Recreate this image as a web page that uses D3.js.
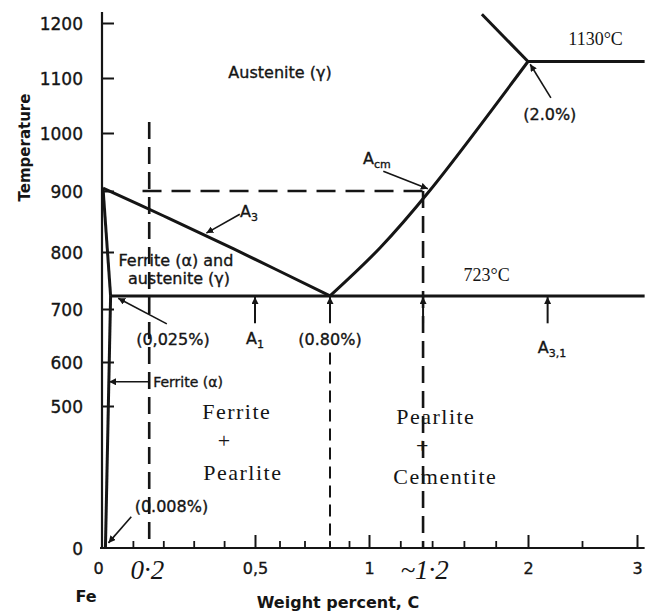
<!DOCTYPE html>
<html>
<head>
<meta charset="utf-8">
<script src="https://cdn.jsdelivr.net/npm/d3@7"></script>
<style>
  body { margin: 0; background: #fff; }
  svg text { fill: #151515; }
  .sans { font-family: "DejaVu Sans", sans-serif; font-size: 16px; stroke: #151515; stroke-width: 0.35px; }
  .serif { font-family: "Liberation Serif", serif; font-size: 22px; letter-spacing: 1.5px; }
  .note { font-family: "Liberation Serif", serif; font-size: 18px; }
  .hand { font-family: "Liberation Serif", serif; font-style: italic; font-size: 27px; }
  .title { font-family: "DejaVu Sans", sans-serif; font-weight: bold; font-size: 15px; }
</style>
</head>
<body>
<svg id="chart" width="645" height="614"></svg>
<script>
// axis ticks: temperature (°C) and carbon content (wt %)
const tempTicks = [0, 500, 600, 700, 800, 900, 1000, 1100, 1200];
const carbonTicks = [0, 0.5, 1, 2, 3];
const carbonMinor = [0.1, 0.2, 0.3, 0.4, 0.6, 0.7, 0.8, 0.9, 1.2, 1.4, 1.6, 1.8, 2.5];
const carbonMax = 3.07;
const tempMax = 1220;

// phase boundaries, points are [wt% C, °C]
const a3Line = [[0, 905], [0.2, 859], [0.43, 805], [0.8, 723]];
const acmLine = [[0.8, 723], [1.07, 807], [1.38, 900], [2.0, 1130]];
const liquidusLine = [[2.0, 1130], [1.71, 1216]];
const eutecticLine = [[2.0, 1130], [carbonMax, 1130]];
const eutectoidLine = [[0.025, 723], [carbonMax, 723]];
const ferriteLine = [[0, 905], [0.025, 723]];
const solvusLine = [[0.025, 723], [0.008, 0]];

// pen-drawn construction lines
const penVertical = [0.152, 1.34];     // carbon contents marked by hand
const penVerticalTop = [1020, 900];
const penTemp = 900;                   // horizontal mark from 0.13 to 1.34 %
const penTempFrom = 0.13;
const eutectoidComp = 0.8;

// small up-arrows under the 723 line
const a1Arrows = [0.5, 0.8, 1.34, 2.18];

// callout arrows [from, to]
const callouts = [
  [[0.45, 862], [0.34, 831]],
  [[1.09, 934], [1.37, 904]],
  [[2.21, 1064], [2.02, 1125]],
  [[0.21, 672], [0.05, 719]],
  [[0.152, 555], [0.02, 555]],
  [[0.093, 110], [0.018, 18]]
];

// labels [text, sub, wt%, °C, style]
const labels = [
  ["Austenite (γ)", "", 0.6, 1111, "sans"],
  ["Ferrite (α) and", "", 0.24, 786, "sans"],
  ["austenite (γ)", "", 0.25, 754, "sans"],
  ["A", "3", 0.48, 867, "sans"],
  ["A", "cm", 1.05, 957, "sans"],
  ["(2.0%)", "", 2.2, 1035, "sans"],
  ["(0,025%)", "", 0.23, 643, "sans"],
  ["A", "1", 0.5, 645, "sans"],
  ["(0.80%)", "", 0.8, 643, "sans"],
  ["A", "3,1", 2.22, 628, "sans"],
  ["(0.008%)", "", 0.225, 148, "sans"],
  ["1130°C", "", 2.62, 1171, "note"],
  ["723°C", "", 1.74, 760, "note"],
  ["Ferrite", "", 0.44, 482, "serif"],
  ["+", "", 0.40, 380, "serif"],
  ["Pearlite", "", 0.46, 268, "serif"],
  ["Pearlite", "", 1.42, 465, "serif"],
  ["+", "", 1.34, 363, "serif"],
  ["Cementite", "", 1.48, 254, "serif"]
];
const ferriteNote = ["Ferrite (α)", 0.165, 555];
const penLabels = [["0·2", 0.146], ["~1·2", 1.35]];

const svg = d3.select("#chart");
const ink = "#151515";

// the printed axes are not uniform, so both scales are piecewise
const x = d3.scaleLinear()
  .domain([0, 0.5, 0.8, 1, 2, 3])
  .range([103, 255, 330, 369, 528, 637]);
const y = d3.scaleLinear()
  .domain(tempTicks)
  .range([548, 406, 362, 309, 252, 191, 133, 78, 23]);

svg.append("defs").append("marker")
  .attr("id", "head")
  .attr("viewBox", "0 0 10 10")
  .attr("refX", 10).attr("refY", 5)
  .attr("markerWidth", 7).attr("markerHeight", 7)
  .attr("markerUnits", "userSpaceOnUse")
  .attr("orient", "auto")
  .append("path")
  .attr("d", "M0,0L10,5L0,10z")
  .attr("fill", ink);

// axes
const yAxis = d3.axisLeft(y)
  .tickValues(tempTicks)
  .tickSizeInner(-11)
  .tickSizeOuter(0)
  .tickPadding(20)
  .tickFormat(d3.format("d"));
const gy = svg.append("g").attr("transform", `translate(${x(0)},0)`).call(yAxis);
gy.select(".domain").remove();
gy.selectAll(".tick line").attr("stroke", ink).attr("stroke-width", 2)
  .filter(d => d === 0).remove();
gy.selectAll(".tick text")
  .attr("class", "sans").style("font-size", "17px").attr("font-family", null).attr("font-size", null)
  .attr("dy", "0.36em");

const xAxis = d3.axisBottom(x)
  .tickValues(carbonTicks)
  .tickSizeInner(-13)
  .tickSizeOuter(0)
  .tickPadding(24)
  .tickFormat(d => d3.format(".1~f")(d).replace(".", ","));
const gx = svg.append("g").attr("transform", `translate(0,${y(0)})`).call(xAxis);
gx.select(".domain").remove();
gx.selectAll(".tick line").attr("stroke", ink).attr("stroke-width", 2)
  .filter(d => d === 0).remove();
gx.selectAll(".tick text")
  .attr("class", "sans").attr("font-family", null).attr("font-size", null)
  .attr("dy", "0.1em")
  .attr("dx", d => d === 0 ? "-5px" : 0);

svg.append("g").selectAll("line")
  .data(carbonMinor)
  .join("line")
  .attr("x1", d => x(d)).attr("x2", d => x(d))
  .attr("y1", y(0)).attr("y2", y(0) - 7)
  .attr("stroke", ink).attr("stroke-width", 1.8);

// axis lines
svg.append("line")
  .attr("x1", x(0) - 1).attr("x2", x(0) - 1)
  .attr("y1", y(tempMax)).attr("y2", y(0))
  .attr("stroke", ink).attr("stroke-width", 2.2);
svg.append("line")
  .attr("x1", x(0) - 3).attr("x2", x(carbonMax))
  .attr("y1", y(0)).attr("y2", y(0))
  .attr("stroke", ink).attr("stroke-width", 2.2);

// phase boundaries
const line = d3.line().x(d => x(d[0])).y(d => y(d[1])).curve(d3.curveCatmullRom);
svg.append("g").selectAll("path")
  .data([a3Line, acmLine, liquidusLine, eutecticLine, eutectoidLine, ferriteLine, solvusLine])
  .join("path")
  .attr("d", line)
  .attr("fill", "none")
  .attr("stroke", ink)
  .attr("stroke-width", 3)
  .attr("stroke-linejoin", "round");

// pen-drawn dashed construction lines
const dashed = svg.append("g").attr("fill", "none").attr("stroke", ink).attr("stroke-width", 2.6);
dashed.selectAll("line.v")
  .data(penVertical)
  .join("line").attr("class", "v")
  .attr("x1", d => x(d)).attr("x2", d => x(d))
  .attr("y1", (d, i) => y(penVerticalTop[i])).attr("y2", y(0))
  .attr("stroke-dasharray", "17 8");
dashed.append("line")
  .attr("x1", x(penTempFrom)).attr("x2", x(penVertical[1]))
  .attr("y1", y(penTemp)).attr("y2", y(penTemp))
  .attr("stroke-dasharray", "19 10");
dashed.append("line")
  .attr("x1", x(eutectoidComp)).attr("x2", x(eutectoidComp))
  .attr("y1", y(618)).attr("y2", y(0))
  .attr("stroke-width", 2)
  .attr("stroke-dasharray", "12 7");

// up-arrows onto the eutectoid line
svg.append("g").selectAll("line")
  .data(a1Arrows)
  .join("line")
  .attr("x1", d => x(d)).attr("x2", d => x(d))
  .attr("y1", y(673)).attr("y2", y(721))
  .attr("stroke", ink).attr("stroke-width", 2)
  .attr("marker-end", "url(#head)");

// callout arrows
svg.append("g").selectAll("line")
  .data(callouts)
  .join("line")
  .attr("x1", d => x(d[0][0])).attr("y1", d => y(d[0][1]))
  .attr("x2", d => x(d[1][0])).attr("y2", d => y(d[1][1]))
  .attr("stroke", ink).attr("stroke-width", 1.6)
  .attr("marker-end", "url(#head)");

// labels
const lab = svg.append("g").selectAll("text")
  .data(labels)
  .join("text")
  .attr("class", d => d[4])
  .attr("x", d => x(d[2]))
  .attr("y", d => y(d[3]))
  .attr("dy", "0.36em")
  .attr("text-anchor", "middle");
lab.append("tspan").text(d => d[0]);
lab.filter(d => d[1]).append("tspan")
  .attr("dy", "0.35em")
  .style("font-size", "11px")
  .text(d => d[1]);

svg.append("text")
  .attr("class", "sans")
  .attr("x", x(ferriteNote[1]))
  .attr("y", y(ferriteNote[2]))
  .attr("dy", "0.36em")
  .style("font-size", "14px")
  .text(ferriteNote[0]);

// hand-written tick notes
svg.append("g").selectAll("text")
  .data(penLabels)
  .join("text")
  .attr("class", "hand")
  .attr("x", d => x(d[1]))
  .attr("y", y(0) + 31)
  .attr("text-anchor", "middle")
  .text(d => d[0]);

// axis titles
svg.append("text").attr("class", "title")
  .attr("transform", `translate(30,${y(975)}) rotate(-90)`)
  .attr("text-anchor", "middle")
  .text("Temperature");
svg.append("text").attr("class", "title")
  .attr("x", 86).attr("y", 602)
  .attr("text-anchor", "middle")
  .style("font-size", "16px")
  .text("Fe");
svg.append("text").attr("class", "title")
  .attr("x", 338).attr("y", 608)
  .attr("text-anchor", "middle")
  .style("font-size", "16px")
  .text("Weight percent, C");
</script>
</body>
</html>
